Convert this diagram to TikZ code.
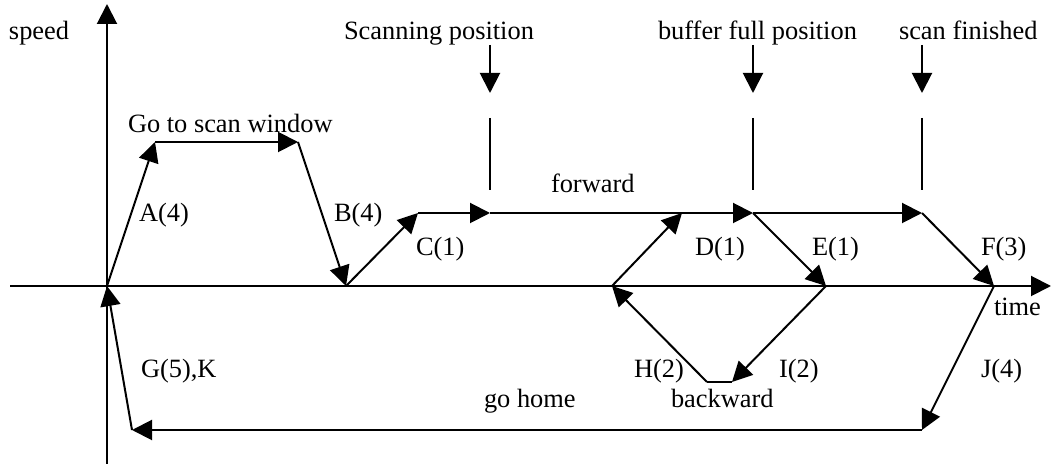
\documentclass[tikz,border=0pt]{standalone}
\usepackage{fontspec}
\setmainfont{Liberation Serif}
\usetikzlibrary{arrows.meta}
\begin{document}
\begin{tikzpicture}[x=0.5pt,y=-0.5pt, line width=1pt,
  arr/.style={-{Triangle[length=10pt,width=10pt]}},
  lbl/.style={anchor=base west, inner sep=0pt, font=\fontsize{13.2}{15}\selectfont}]
\useasboundingbox (0,0) rectangle (1051,464);
% axes
\coordinate (axL) at (10,286);
\coordinate (axR) at (1051,286);
\coordinate (axT) at (107,4);
\coordinate (axB) at (107,464);
\draw[arr] (axL) -- (axR);
\draw[arr] (axB) -- (axT);
% path points
\coordinate (O) at (107,286);
\coordinate (P1) at (155,142);
\coordinate (P2) at (298,142);
\coordinate (P3) at (346,286);
\coordinate (P4) at (418,213);
\coordinate (S1) at (490,213);
\coordinate (D0) at (612,286);
\coordinate (D1) at (682,213);
\coordinate (S2) at (753,213);
\coordinate (S3) at (922,213);
\coordinate (E1) at (826,286);
\coordinate (F1) at (994,286);
\coordinate (I1) at (732,382);
\coordinate (H0) at (707,382);
\coordinate (J1) at (922,430);
\coordinate (G0) at (132,430);
\draw[arr] (O) -- (P1);
\draw[arr] (P1) -- (P2);
\draw[arr] (P2) -- (P3);
\draw[arr] (P3) -- (P4);
\draw[arr] (P4) -- (S1);
\draw[arr] (S1) -- (S2);
\draw[arr] (D0) -- (D1);
\draw[arr] (S2) -- (S3);
\draw[arr] (S2) -- (E1);
\draw[arr] (S3) -- (F1);
\draw[arr] (E1) -- (I1);
\draw (I1) -- (H0);
\draw[arr] (H0) -- (D0);
\draw[arr] (F1) -- (J1);
\draw[arr] (J1) -- (G0);
\draw[arr] (G0) -- (O);
% position markers
\foreach \x/\n in {490/a,753/b,922/c}{
  \coordinate (m\n1) at (\x,45);
  \coordinate (m\n2) at (\x,93);
  \coordinate (m\n3) at (\x,118);
  \coordinate (m\n4) at (\x,190);
  \draw[arr] (m\n1) -- (m\n2);
  \draw (m\n3) -- (m\n4);
}
% labels
\node[lbl] (tspeed) at (8,40) {speed};
\node[lbl] (tscan) at (343,40) {Scanning position};
\node[lbl] (tbuf) at (657,40) {buffer full position};
\node[lbl] (tfin) at (898,40) {scan finished};
\node[lbl] (tgo) at (127,133) {Go to scan window};
\node[lbl] (tA) at (138,222) {A(4)};
\node[lbl] (tB) at (333,222) {B(4)};
\node[lbl] (tC) at (415,256) {C(1)};
\node[lbl] (tfw) at (550,193) {forward};
\node[lbl] (tD) at (694,256) {D(1)};
\node[lbl] (tE) at (811,256) {E(1)};
\node[lbl] (tF) at (980,256) {F(3)};
\node[lbl] (ttime) at (993,316) {time};
\node[lbl] (tH) at (633,378) {H(2)};
\node[lbl] (tI) at (778,378) {I(2)};
\node[lbl] (tJ) at (980,378) {J(4)};
\node[lbl] (tG) at (140,378) {G(5),K};
\node[lbl] (tback) at (670,408) {backward};
\node[lbl] (thome) at (483,408) {go home};
\end{tikzpicture}
\end{document}
